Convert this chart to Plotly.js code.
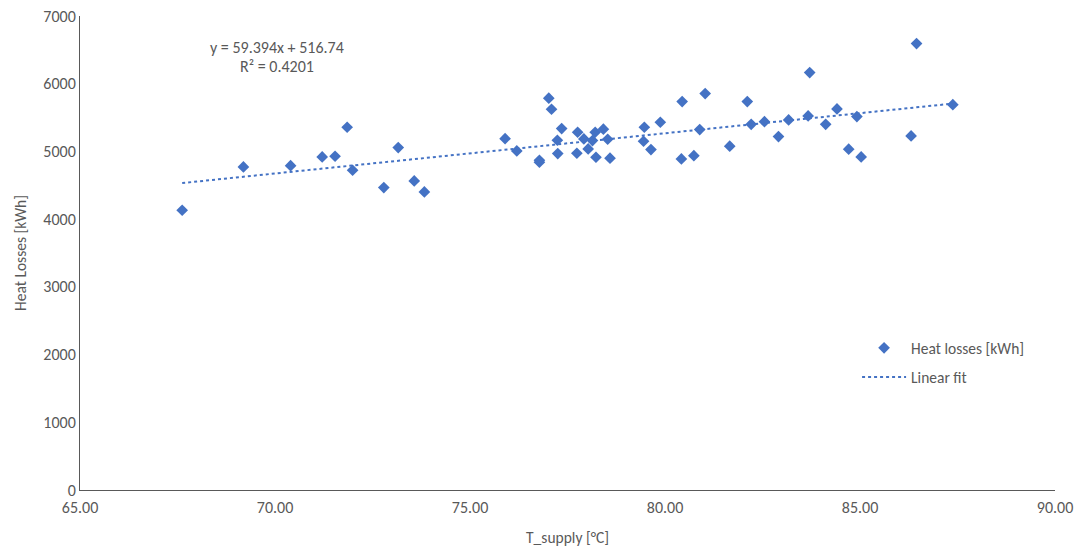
<!DOCTYPE html>
<html>
<head>
<meta charset="utf-8">
<script src="https://cdn.plot.ly/plotly-3.0.1.min.js"></script>
<style>html,body{margin:0;padding:0;background:#fff;}#chart{width:1081px;height:550px;}</style>
</head>
<body>
<div id="chart"></div>
<script>
// Supply temperature [°C]
const tSupply = [
  67.62, 69.19, 70.40, 71.21, 71.54, 71.85, 71.99, 72.79, 73.16, 73.57, 73.83,
  75.90, 76.20, 76.78, 76.78, 77.02, 77.09, 77.35, 77.24, 77.25, 77.76, 77.74,
  77.92, 78.03, 78.14, 78.21, 78.42, 78.23, 78.53, 78.59, 79.47, 79.45, 79.64,
  79.88, 80.44, 80.42, 80.74, 80.89, 81.03, 81.66, 82.11, 82.21, 82.55, 82.91,
  83.17, 83.71, 83.67, 84.12, 84.41, 84.71, 84.92, 85.03, 86.31, 86.45, 87.38
];
// Heat losses [kWh]
const heatLosses = [
  4131, 4771, 4790, 4919, 4929, 5357, 4722, 4466, 5057, 4564, 4402,
  5189, 5007, 4870, 4840, 5786, 5623, 5337, 5165, 4968, 5283, 4973,
  5185, 5037, 5160, 5283, 5328, 4914, 5180, 4900, 5357, 5150, 5027,
  5431, 5736, 4889, 4938, 5322, 5854, 5077, 5736, 5401, 5440, 5219,
  5465, 6164, 5524, 5401, 5628, 5033, 5514, 4919, 5229, 6593, 5691
];
// Linear fit coefficients (as shown on chart)
const fitSlope = 59.394;
const fitIntercept = 516.74;
const fitLabel = "y = 59.394x + 516.74";
const r2Label = "R² = 0.4201";
const xTickVals = [65, 70, 75, 80, 85, 90];
const yTickVals = [0, 1000, 2000, 3000, 4000, 5000, 6000, 7000];

const xMin = Math.min(...tSupply), xMax = Math.max(...tSupply);
const fitX = [xMin, xMax];
const fitY = fitX.map(x => fitSlope * x + fitIntercept);

const blue = '#4472C4';
const gray = '#595959';
const fontFam = 'Carlito, "Liberation Sans", Arial, sans-serif';

const data = [
  {
    x: tSupply, y: heatLosses, type: 'scatter', mode: 'markers',
    name: 'Heat losses [kWh]', legendgroup: 'a',
    marker: {symbol: 'diamond', size: 9, color: blue}
  },
  {
    x: fitX, y: fitY, type: 'scatter', mode: 'lines',
    name: 'Linear fit', legendgroup: 'b',
    line: {color: blue, width: 2, dash: 'dot'}
  }
];

const layout = {
  width: 1081, height: 550,
  margin: {l: 80, r: 26, t: 16, b: 60},
  paper_bgcolor: '#fff', plot_bgcolor: '#fff',
  font: {family: fontFam, size: 16, color: gray},
  showlegend: true,
  legend: {x: 0.797, y: 0.335, xanchor: 'left', yanchor: 'top', traceorder: 'grouped',
           itemwidth: 44,
           font: {size: 15.5, color: gray}, bgcolor: 'rgba(0,0,0,0)', tracegroupgap: 6},
  xaxis: {
    range: [65, 90], tickvals: xTickVals, tickformat: '.2f',
    showgrid: false, zeroline: false, showline: true, linecolor: '#595959', linewidth: 1,
    ticks: '', tickfont: {size: 16, color: gray}, ticklabelstandoff: 3,
    title: {text: 'T_supply [°C]', font: {size: 15.5, color: gray}, standoff: 15},
    automargin: false
  },
  yaxis: {
    range: [0, 7000], tickvals: yTickVals,
    showgrid: false, zeroline: false, showline: true, linecolor: '#595959', linewidth: 1,
    ticks: '', tickfont: {size: 16, color: gray},
    title: {text: 'Heat Losses [kWh]', font: {size: 15.5, color: gray}, standoff: 12},
    automargin: false
  },
  annotations: [
    {x: 70.05, y: 6542, xref: 'x', yref: 'y', text: fitLabel, showarrow: false,
     font: {size: 16, color: gray}},
    {x: 70.05, y: 6247, xref: 'x', yref: 'y', text: r2Label, showarrow: false,
     font: {size: 16, color: gray}}
  ]
};

Plotly.newPlot('chart', data, layout, {displayModeBar: false, staticPlot: true});
</script>
</body>
</html>
